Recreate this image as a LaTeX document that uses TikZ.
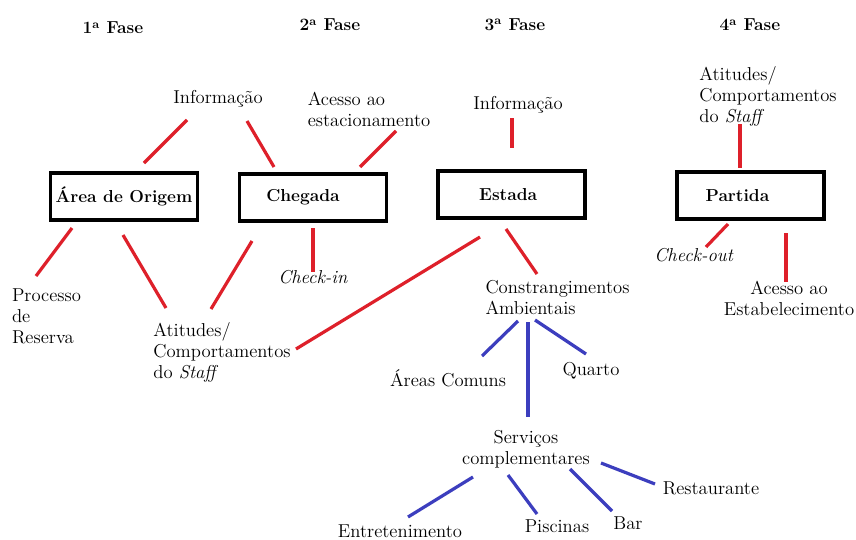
\documentclass[tikz,border=0pt]{standalone}
\usetikzlibrary{calc}
\definecolor{linkred}{RGB}{222,32,42}
\definecolor{linkblue}{RGB}{60,62,190}
\begin{document}
\begin{tikzpicture}[x=0.75pt,y=-0.75pt,
  txt/.style={font=\fontsize{14}{15.75}\selectfont, inner sep=0pt},
  phase/.style={font=\fontsize{13}{15}\selectfont\bfseries, inner sep=0pt},
  stage/.style={draw, line width=2.3pt, minimum width=110.25pt, minimum height=35.25pt,
    inner sep=0pt, font=\fontsize{13}{15}\selectfont\bfseries},
  redlink/.style={draw=linkred, line width=2.4pt},
  bluelink/.style={draw=linkblue, line width=2.4pt}]

% canvas
\fill[white] (0,0) rectangle (856,539);
\useasboundingbox (0,0) rectangle (856,539);

% phase headings
\node[phase] (f1) at (113,28) {1\textsuperscript{a} Fase};
\node[phase] (f2) at (330,25) {2\textsuperscript{a} Fase};
\node[phase] (f3) at (515,25) {3\textsuperscript{a} Fase};
\node[phase] (f4) at (750,25) {4\textsuperscript{a} Fase};

% stage boxes
\node[stage] (orig) at (124,196.5) {Área de Origem};
\node[stage] (cheg) at (313,197.5) {\hspace*{-15pt}Chegada};
\node[stage] (esta) at (511.5,194.5) {\hspace*{-5pt}Estada};
\node[stage] (part) at (750.5,195.5) {\hspace*{-19.5pt}Partida};

% factors
\node[txt] (info1) at (218,99) {Informação};
\node[txt, align=left] (acesso1) at (369,109) {Acesso ao\\estacionamento};
\node[txt] (info3) at (518,105) {Informação};
\node[txt, align=left] (atit4) at (768,96) {Atitudes/\\Comportamentos\\do \textit{Staff}};
\node[txt, align=left] (proc) at (46.5,316) {Processo\\de\\Reserva};
\node[txt] (checkin) at (313,277) {\textit{Check-in}};
\node[txt, align=left] (atit1) at (222,352) {Atitudes/\\Comportamentos\\do \textit{Staff}};
\node[txt, align=left] (constr) at (557.5,298) {Constrangimentos\\Ambientais};
\node[txt] (checkout) at (694,255) {\textit{Check-out}};
\node[txt, align=center] (acesso4) at (789,298) {Acesso ao\\Estabelecimento};
\node[txt] (areas) at (448,378) {Áreas Comuns};
\node[txt] (quarto) at (591,371) {Quarto};
\node[txt, align=center] (serv) at (526,449) {Serviços\\complementares};
\node[txt] (rest) at (711,488) {Restaurante};
\node[txt] (bar) at (628,523) {Bar};
\node[txt] (pisc) at (557,526) {Piscinas};
\node[txt] (entr) at (400,531) {Entretenimento};

% red connectors
\draw[redlink] ($(info1)+(-31,21)$) -- ($(orig)+(20,-33.5)$);
\draw[redlink] ($(info1)+(29,22)$) -- ($(cheg)+(-39,-30.5)$);
\draw[redlink] ($(acesso1)+(27,22)$) -- ($(cheg)+(47,-30.5)$);
\draw[redlink] ($(info3)+(-6,13)$) -- ($(esta)+(0.5,-46.5)$);
\draw[redlink] ($(atit4)+(-28,28)$) -- ($(part)+(-10.5,-27.5)$);
\draw[redlink] ($(orig)+(-52,31.5)$) -- ($(proc)+(-10.5,-40)$);
\draw[redlink] ($(orig)+(-1,38.5)$) -- ($(atit1)+(-56,-44)$);
\draw[redlink] ($(cheg)+(-61,43.5)$) -- ($(atit1)+(-11,-43)$);
\draw[redlink] ($(cheg)+(0,30.5)$) -- ($(checkin)+(0,-5)$);
\draw[redlink] ($(esta)+(-31.5,42.5)$) -- ($(atit1)+(74,-3)$);
\draw[redlink] ($(esta)+(-5.5,34.5)$) -- ($(constr)+(-20.5,-24)$);
\draw[redlink] ($(part)+(-22.5,28.5)$) -- ($(checkout)+(12,-8)$);
\draw[redlink] ($(part)+(35.5,37.5)$) -- ($(acesso4)+(-3,-16)$);

% blue connectors
\draw[bluelink] ($(constr)+(-39.5,23)$) -- ($(areas)+(34,-22)$);
\draw[bluelink] ($(constr)+(-22.5,22)$) -- ($(quarto)+(-5,-17)$);
\draw[bluelink] ($(constr)+(-29.5,24)$) -- ($(serv)+(2,-32)$);
\draw[bluelink] ($(serv)+(-53,28)$) -- ($(entr)+(8,-14)$);
\draw[bluelink] ($(serv)+(-18,26)$) -- ($(pisc)+(-20,-12)$);
\draw[bluelink] ($(serv)+(44,20)$) -- ($(bar)+(-16,-12)$);
\draw[bluelink] ($(serv)+(75,14)$) -- ($(rest)+(-56,-4)$);
\end{tikzpicture}
\end{document}
